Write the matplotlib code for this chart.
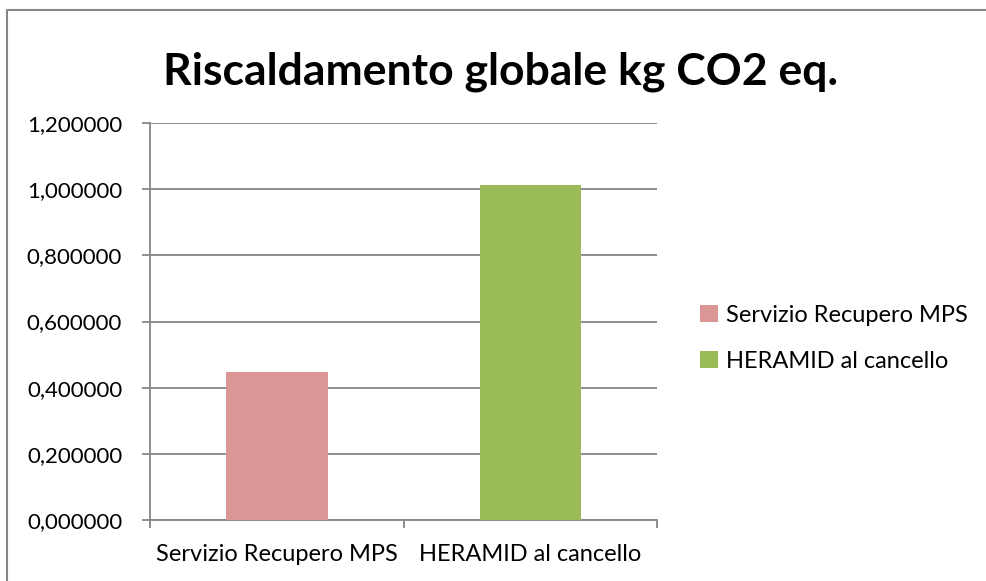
import matplotlib.pyplot as plt
from matplotlib.patches import Patch
from matplotlib.lines import Line2D
from matplotlib.ticker import FuncFormatter

categories = ['Servizio Recupero MPS', 'HERAMID al cancello']
values = [0.447, 1.012]
colors = ['#DA9694', '#9BBB59']
title = 'Riscaldamento globale kg CO2 eq.'

plt.rcParams['font.family'] = ['Lato', 'DejaVu Sans']

fig = plt.figure(figsize=(9.87, 5.81), dpi=100)
ax = fig.add_axes([0.152, 0.105, 0.514, 0.683])

ax.bar(range(len(categories)), values, width=0.4, color=colors, zorder=3)

ax.set_xlim(-0.5, 1.5)
ax.set_ylim(0, 1.2)
ax.set_yticks([0, 0.2, 0.4, 0.6, 0.8, 1.0, 1.2])
ax.yaxis.set_major_formatter(FuncFormatter(lambda v, p: f'{v:.6f}'.replace('.', ',')))
ax.grid(axis='y', color='#868686', linewidth=1.3, zorder=0)

ax.set_xticks(range(len(categories)))
ax.set_xticklabels(categories)
ax.set_xticks([-0.5, 0.5, 1.5], minor=True)
ax.tick_params(axis='x', which='major', length=0, pad=17, labelsize=17)
ax.tick_params(axis='x', which='minor', length=6, color='#868686', width=1.3)
ax.tick_params(axis='y', length=6, color='#868686', width=1.3, labelsize=16, pad=14)

for s in ['top', 'right']:
    ax.spines[s].set_visible(False)
for s in ['left', 'bottom']:
    ax.spines[s].set_color('#868686')
    ax.spines[s].set_linewidth(1.3)

fig.text(0.507, 0.877, title, ha='center', va='center', fontsize=32, fontweight='bold')

handles = [Patch(facecolor=c) for c in colors]
fig.legend(handles, categories, loc='center left', bbox_to_anchor=(0.700, 0.418),
           frameon=False, fontsize=17, handlelength=0.75, handleheight=0.75,
           handletextpad=0.35, labelspacing=1.05, borderaxespad=0)

# chart frame (only top and left edges fall inside the image)
fig.add_artist(Line2D([0.007, 0.007, 1.0], [0.0, 0.983, 0.983], transform=fig.transFigure,
                      color='#868686', linewidth=1.5))

fig.savefig('out.png', dpi=100)
